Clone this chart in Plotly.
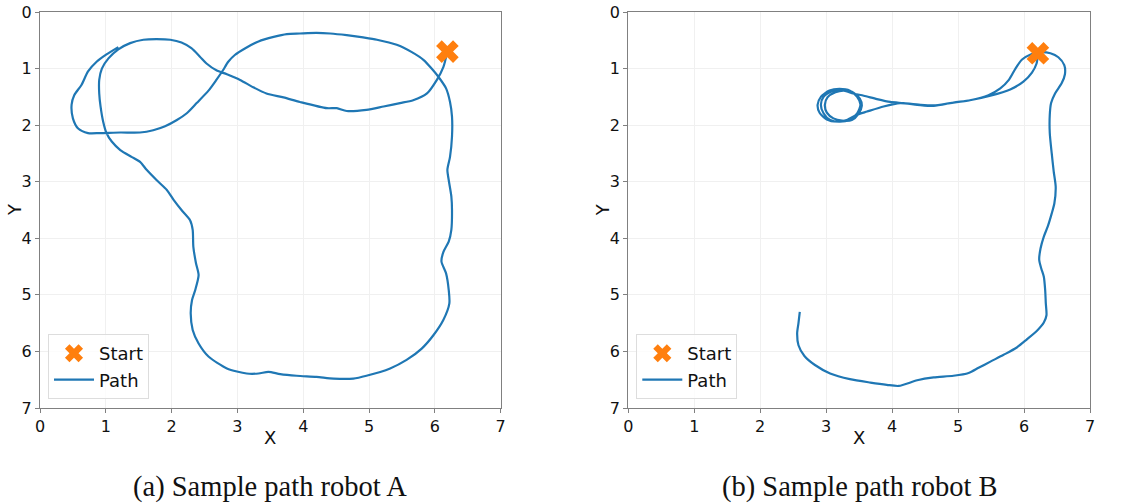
import plotly.graph_objects as go

# ---------------- data ----------------
start_a = (6.19, 0.70)
path_a_x = [6.19, 6.13, 6.03, 5.88, 5.67, 5.47, 5.22, 4.96, 4.66, 4.51, 4.36, 3.95, 3.70, 3.44, 3.24,
            3.04, 2.84, 2.68, 2.53, 2.43, 2.30, 2.15, 1.98, 1.77, 1.57, 1.37, 1.19, 1.04, 0.94, 0.90,
            0.90, 0.92, 0.96, 1.01, 1.09, 1.22, 1.39, 1.52, 1.62, 1.77, 1.93, 2.03, 2.15, 2.28, 2.32,
            2.33, 2.37, 2.41, 2.36, 2.31, 2.29, 2.32, 2.41, 2.56, 2.84, 3.14, 3.32, 3.47, 3.65, 3.90,
            4.20, 4.46, 4.76, 4.96, 5.32, 5.57, 5.80, 5.98, 6.13, 6.22, 6.21, 6.17, 6.10, 6.13, 6.21,
            6.25, 6.26, 6.25, 6.21, 6.19, 6.23, 6.26, 6.26, 6.23, 6.17, 6.05, 5.95, 5.83, 5.65, 5.42,
            5.12, 4.91, 4.66, 4.41, 4.20, 3.95, 3.75, 3.55, 3.32, 3.12, 2.96, 2.86, 2.78, 2.68, 2.56,
            2.38, 2.23, 2.08, 1.90, 1.72, 1.52, 1.22, 0.91, 0.73, 0.58, 0.50, 0.48, 0.52, 0.63, 0.73,
            0.86, 1.01, 1.19]
path_a_y = [0.70, 0.97, 1.20, 1.44, 1.56, 1.61, 1.67, 1.73, 1.75, 1.70, 1.70, 1.59, 1.51, 1.44, 1.33,
            1.20, 1.10, 1.03, 0.91, 0.79, 0.64, 0.54, 0.49, 0.48, 0.49, 0.55, 0.66, 0.82, 1.00, 1.20,
            1.44, 1.67, 1.94, 2.14, 2.29, 2.44, 2.56, 2.65, 2.79, 2.97, 3.15, 3.32, 3.50, 3.68, 3.85,
            4.15, 4.44, 4.65, 4.91, 5.09, 5.33, 5.62, 5.86, 6.09, 6.30, 6.39, 6.39, 6.36, 6.40, 6.43,
            6.45, 6.48, 6.48, 6.43, 6.30, 6.15, 5.95, 5.71, 5.44, 5.15, 4.91, 4.62, 4.41, 4.24, 4.06,
            3.85, 3.50, 3.26, 2.97, 2.79, 2.56, 2.20, 1.85, 1.59, 1.35, 1.14, 1.00, 0.85, 0.71, 0.58,
            0.49, 0.45, 0.41, 0.38, 0.37, 0.38, 0.39, 0.44, 0.52, 0.64, 0.76, 0.88, 1.03, 1.20, 1.39,
            1.61, 1.79, 1.91, 2.02, 2.09, 2.13, 2.13, 2.14, 2.14, 2.06, 1.88, 1.64, 1.47, 1.29, 1.05,
            0.88, 0.75, 0.62]

start_b = (6.21, 0.73)
path_b_x = [6.21, 6.19, 6.12, 5.99, 5.79, 5.49, 5.18, 4.93, 4.63, 4.38, 4.12, 3.87, 3.62, 3.46,
            3.31, 3.16, 3.01, 2.90, 2.87, 2.92, 3.05, 3.20, 3.36, 3.47, 3.52, 3.47, 3.36,
            3.21, 3.06, 2.96, 2.92, 2.96, 3.09, 3.24, 3.39, 3.51, 3.54, 3.49, 3.39,
            3.24, 3.11, 3.01, 2.98, 3.02, 3.14, 3.27, 3.41,
            3.57, 3.77, 3.97, 4.17, 4.43, 4.63, 4.88, 5.18, 5.46, 5.64, 5.77, 5.87, 5.97, 6.10,
            6.25, 6.40, 6.52, 6.61, 6.62, 6.57, 6.47, 6.41, 6.39, 6.39, 6.42, 6.45, 6.48, 6.46,
            6.42, 6.36, 6.30, 6.25, 6.23, 6.26, 6.30, 6.32, 6.33, 6.34, 6.30, 6.20, 6.04, 5.89,
            5.69, 5.49, 5.31, 5.16, 4.93, 4.63, 4.38, 4.10, 3.92, 3.67, 3.36, 3.06, 2.83, 2.67,
            2.58, 2.56, 2.58, 2.60]
path_b_y = [0.73, 0.91, 1.07, 1.23, 1.37, 1.48, 1.56, 1.60, 1.66, 1.64, 1.61, 1.67, 1.76, 1.82,
            1.91, 1.94, 1.90, 1.78, 1.64, 1.50, 1.39, 1.36, 1.39, 1.50, 1.64, 1.79, 1.90,
            1.94, 1.91, 1.79, 1.64, 1.50, 1.40, 1.37, 1.41, 1.53, 1.66, 1.80, 1.91,
            1.92, 1.88, 1.78, 1.64, 1.51, 1.42, 1.39, 1.44,
            1.48, 1.54, 1.59, 1.61, 1.64, 1.65, 1.61, 1.56, 1.47, 1.35, 1.20, 1.00, 0.84, 0.75,
            0.71, 0.73, 0.80, 0.94, 1.10, 1.26, 1.44, 1.61, 1.82, 2.14, 2.50, 2.82, 3.09, 3.38,
            3.56, 3.79, 3.97, 4.18, 4.38, 4.53, 4.68, 4.91, 5.15, 5.36, 5.49, 5.63, 5.79, 5.93,
            6.06, 6.18, 6.29, 6.38, 6.43, 6.46, 6.51, 6.61, 6.59, 6.55, 6.49, 6.39, 6.24, 6.08,
            5.89, 5.68, 5.50, 5.30]

ticks = [0, 1, 2, 3, 4, 5, 6, 7]
captions = ["(a) Sample path robot A", "(b) Sample path robot B"]

# ---------------- figure ----------------
BLUE = "#1f77b4"
ORANGE = "#ff7f0e"
W, H = 1129, 503

fig = go.Figure()

panels = [
    (path_a_x, path_a_y, start_a, "x", "y", "legend"),
    (path_b_x, path_b_y, start_b, "x2", "y2", "legend2"),
]
for px, py, st, xa, ya, lg in panels:
    fig.add_trace(go.Scatter(x=px, y=py, mode="lines", name="Path",
                             line=dict(color=BLUE, width=2.2, shape="spline", smoothing=0.7),
                             xaxis=xa, yaxis=ya, legend=lg, legendrank=2))
    fig.add_trace(go.Scatter(x=[st[0]], y=[st[1]], mode="markers", name="Start",
                             marker=dict(symbol="x", size=20, color=ORANGE,
                                         line=dict(width=0)),
                             xaxis=xa, yaxis=ya, legend=lg, legendrank=1))

xdoms = [[40 / W, 500.7 / W], [628.3 / W, 1090 / W]]
ydom = [95 / H, 491 / H]

axis_common = dict(
    range=[0, 7], tickvals=ticks, ticks="outside", ticklen=4, tickcolor="#808080",
    showline=True, linecolor="#808080", linewidth=1.2, mirror=True,
    showgrid=True, gridcolor="#f0f0f0", gridwidth=1, zeroline=False, automargin=False,
    tickfont=dict(family="DejaVu Sans", size=16, color="#111"),
)

legend_common = dict(
    y=(H - 399) / H, xanchor="left", yanchor="bottom",
    bgcolor="rgba(255,255,255,0.8)", bordercolor="#dddddd", borderwidth=1,
    font=dict(family="DejaVu Sans", size=18, color="#111"),
    traceorder="normal", itemwidth=40, tracegroupgap=0,
)

fig.update_layout(
    width=W, height=H, margin=dict(l=0, r=0, t=0, b=0, autoexpand=False),
    paper_bgcolor="white", plot_bgcolor="white",
    showlegend=True,
    xaxis=dict(domain=xdoms[0], anchor="y", **axis_common),
    yaxis=dict(domain=ydom, anchor="x", autorange=False, **{**axis_common, "range": [7, 0]}),
    xaxis2=dict(domain=xdoms[1], anchor="y2", **axis_common),
    yaxis2=dict(domain=ydom, anchor="x2", autorange=False, **{**axis_common, "range": [7, 0]}),
    legend=dict(x=48 / W, **legend_common),
    legend2=dict(x=(628.3 + 8) / W, **legend_common),
)

title_font = dict(family="DejaVu Sans", size=18, color="#111")
for i, cap in enumerate(captions):
    xc = (xdoms[i][0] + xdoms[i][1]) / 2
    fig.add_annotation(text=cap, xref="paper", yref="paper", x=xc, y=(H - 487) / H,
                       xanchor="center", yanchor="middle", showarrow=False,
                       font=dict(family="Liberation Serif", size=28.5, color="#111"))
    # axis titles
    fig.add_annotation(text="X", xref="paper", yref="paper", x=xc, y=(H - 437) / H,
                       xanchor="center", yanchor="middle", showarrow=False, font=title_font)
    fig.add_annotation(text="Y", xref="paper", yref="paper",
                       x=(xdoms[i][0] * W - 26) / W, y=(H - 210) / H, textangle=-90,
                       xanchor="center", yanchor="middle", showarrow=False, font=title_font)

fig.write_html("out.html", config={"displayModeBar": False},
               post_script="document.body.style.margin='0px';document.body.style.overflow='hidden';")
